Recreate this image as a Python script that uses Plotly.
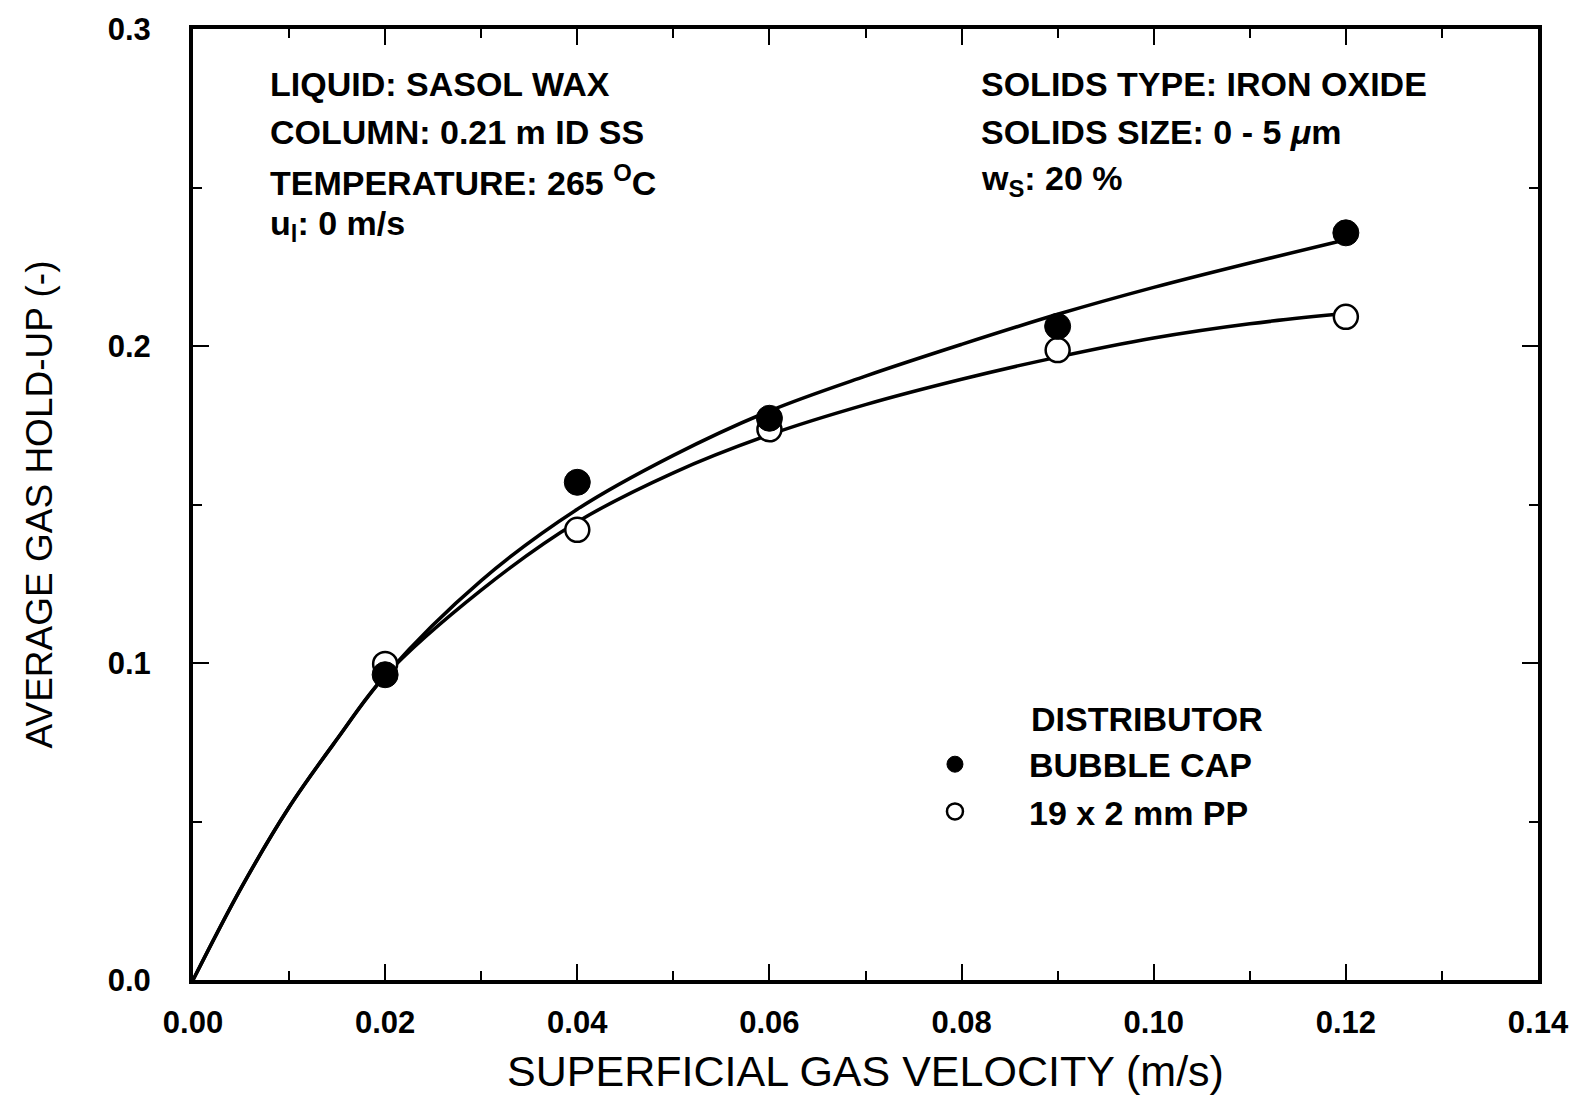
import plotly.graph_objects as go

# ---- data ----
ug_points = [0.02, 0.04, 0.06, 0.09, 0.12]
holdup_bubble_cap = [0.0963, 0.157, 0.1772, 0.2062, 0.2357]
holdup_pp = [0.0997, 0.142, 0.1737, 0.1987, 0.2092]

# fitted curves
curve_x = [0.0, 0.005, 0.01, 0.015, 0.02, 0.03, 0.04, 0.05, 0.06, 0.07, 0.08, 0.09, 0.10, 0.11, 0.12]
curve_bubble_cap = [0.0, 0.029, 0.0545, 0.076, 0.096, 0.126, 0.1485, 0.1655, 0.1795, 0.1905, 0.2005,
                    0.2100, 0.2185, 0.2262, 0.2335]
curve_pp = [0.0, 0.029, 0.0545, 0.076, 0.096, 0.123, 0.1445, 0.160, 0.172, 0.1815, 0.1895, 0.1965,
            0.2025, 0.2070, 0.2103]

x_ticks = [0.00, 0.02, 0.04, 0.06, 0.08, 0.10, 0.12, 0.14]
y_ticks = [0.0, 0.1, 0.2, 0.3]

FONT = "Liberation Sans, Arial, sans-serif"

fig = go.Figure()

for cy in (curve_bubble_cap, curve_pp):
    fig.add_trace(go.Scatter(x=curve_x, y=cy, mode="lines",
                             line=dict(color="black", width=3.5, shape="spline", smoothing=1.0),
                             showlegend=False, hoverinfo="skip"))
fig.add_trace(go.Scatter(x=ug_points, y=holdup_pp, mode="markers", name="<b>19 x 2 mm PP</b>",
                         legendrank=2,
                         marker=dict(symbol="circle", size=24, color="white",
                                     line=dict(color="black", width=2.5))))
fig.add_trace(go.Scatter(x=ug_points, y=holdup_bubble_cap, mode="markers", name="<b>BUBBLE CAP</b>",
                         legendrank=1,
                         marker=dict(symbol="circle", size=26, color="black",
                                     line=dict(color="black", width=1))))

axis_common = dict(
    showline=True, linecolor="black", linewidth=4, mirror="ticks",
    ticks="inside", ticklen=16, tickwidth=2, tickcolor="black",
    showgrid=False, zeroline=False,
    tickfont=dict(family=FONT, size=31, color="black", weight="bold"),
)

fig.update_xaxes(range=[0, 0.14], tickvals=x_ticks,
                 ticktext=[f"{v:.2f}" for v in x_ticks],
                 minor=dict(dtick=0.01, ticks="inside", ticklen=9, tickwidth=2, tickcolor="black"),
                 ticklabelstandoff=12,
                 title=dict(text="SUPERFICIAL GAS VELOCITY (m/s)",
                            font=dict(family=FONT, size=43, color="black"), standoff=18),
                 **axis_common)
fig.update_yaxes(range=[0, 0.3], tickvals=y_ticks,
                 ticktext=[f"{v:.1f}" for v in y_ticks],
                 minor=dict(dtick=0.05, ticks="inside", ticklen=9, tickwidth=2, tickcolor="black"),
                 ticklabelstandoff=32,
                 title=dict(text="AVERAGE GAS HOLD-UP (-)",
                            font=dict(family=FONT, size=37, color="black"), standoff=45),
                 **axis_common)

ann_font = dict(family=FONT, size=34, color="black")
left_lines = ["<b>LIQUID: SASOL WAX</b>", "<b>COLUMN: 0.21 m ID SS</b>",
              "<b>TEMPERATURE: 265 <sup>O</sup>C</b>", "<b>u<sub>l</sub>: 0 m/s</b>"]
right_lines = ["<b>SOLIDS TYPE: IRON OXIDE</b>", "<b>SOLIDS SIZE: 0 - 5 <i>μ</i>m</b>",
               "<b>w<sub>S</sub>: 20 %</b>"]
line_y = [0.9425, 0.8913, 0.8412, 0.7936]
annotations = []
for txt, yy in zip(left_lines, line_y):
    annotations.append(dict(text=txt, x=0.0558, y=yy, xref="paper", yref="paper",
                            xanchor="left", yanchor="middle", showarrow=False, font=ann_font))
for txt, yy in zip(right_lines, line_y):
    annotations.append(dict(text=txt, x=0.5844, y=yy, xref="paper", yref="paper",
                            xanchor="left", yanchor="middle", showarrow=False, font=ann_font))
annotations.append(dict(text="<b>DISTRIBUTOR</b>", x=0.6216, y=0.2748, xref="paper", yref="paper",
                        xanchor="left", yanchor="middle", showarrow=False, font=ann_font))

fig.update_layout(
    width=1586, height=1100,
    margin=dict(l=193, r=48, t=25, b=118),
    paper_bgcolor="white", plot_bgcolor="white",
    annotations=annotations,
    showlegend=True,
    legend=dict(x=0.5115, y=0.257, xanchor="left", yanchor="top",
                bgcolor="rgba(0,0,0,0)", borderwidth=0,
                font=dict(family=FONT, size=34, color="black"),
                itemsizing="trace", itemwidth=138, traceorder="normal"),
)

fig.write_html("out.html")
